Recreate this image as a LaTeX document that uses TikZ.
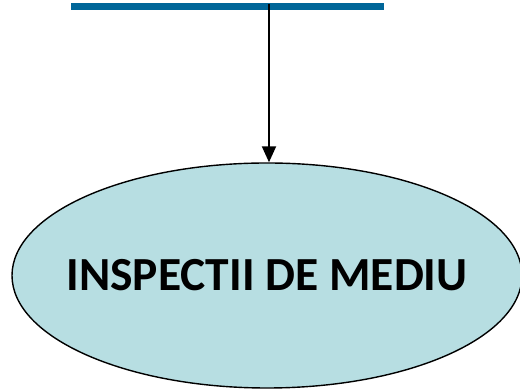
\documentclass[tikz,border=0pt]{standalone}
\usepackage{fontspec}
\setmainfont{Carlito}
\usepackage{xcolor}
\usetikzlibrary{arrows.meta,positioning,shapes.geometric}

\definecolor{barblue}{RGB}{0,102,153}
\definecolor{ovalfill}{RGB}{183,222,226}

\begin{document}
\begin{tikzpicture}[x=1pt, y=1pt,
    oval/.style={ellipse, draw=black, line width=1.4pt, fill=ovalfill, minimum width=510pt, minimum height=225pt, inner sep=0pt, font=\fontsize{47.5}{56}\selectfont\bfseries},
    flow/.style={-{Triangle[length=16pt,width=14pt]}, line width=2pt, black}]
    % Page frame
    \useasboundingbox (0,0) rectangle (520,390);

    % Top bar
    \coordinate (barL) at (71,383.5);
    \coordinate (barR) at (384,383.5);
    \draw[barblue, line width=7pt] (barL) -- (barR);

    % Target ellipse
    \node[oval] (mediu) at (267,114.5) {\raisebox{-7pt}{\makebox[0pt]{INSPECTII DE MEDIU}}};

    % Arrow down
    \coordinate (drop) at (269,386);
    \draw[flow] (drop) -- (drop |- mediu.north);
\end{tikzpicture}
\end{document}
